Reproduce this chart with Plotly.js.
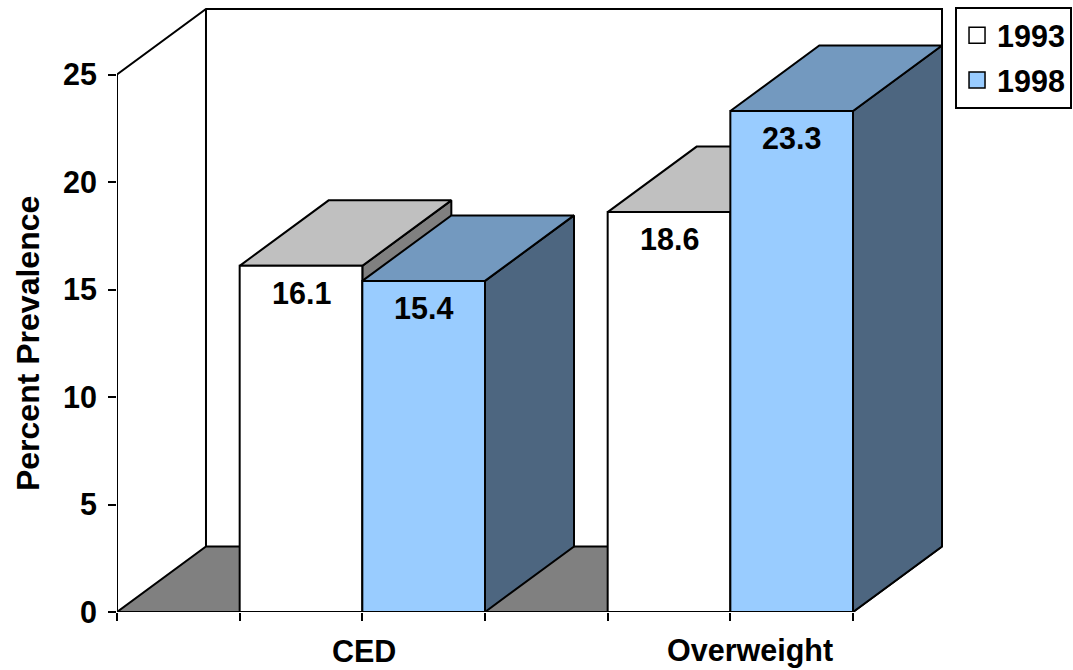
<!DOCTYPE html>
<html>
<head>
<meta charset="utf-8">
<script src="https://cdn.plot.ly/plotly-3.0.1.min.js"></script>
<style>html,body{margin:0;padding:0;background:#fff;}#chart{width:1073px;height:670px;}</style>
</head>
<body>
<div id="chart"></div>
<script>
// ---- data ----
const categories = ['CED', 'Overweight'];
const seriesNames = ['1993', '1998'];
const values1993 = [16.1, 18.6];
const values1998 = [15.4, 23.3];
const yTickVals = [0, 5, 10, 15, 20, 25];
const yTickText = ['0', '5', '10', '15', '20', '25'];
const yTitle = 'Percent Prevalence';

// ---- styles / geometry ----
const series = [values1993, values1998];
const faceColors = [
  {front: '#FFFFFF', top: '#C0C0C0', side: '#808080'},
  {front: '#99CCFF', top: '#7399BF', side: '#4D6680'}
];
const DX = 0.7255, DY = 3.0465;   // 3-D depth offset in axis units
const SLOT = 3;                    // gap + 2 bars per category
const YMAX = yTickVals[yTickVals.length - 1];
const XEND = SLOT * categories.length;
const LW = 2;
const FONT = 'Liberation Sans, Arial, Helvetica, sans-serif';
const FS = 30.5;

function poly(xs, ys, fill) {
  return {type: 'scatter', mode: 'lines', x: xs.concat([xs[0]]), y: ys.concat([ys[0]]),
    fill: 'toself', fillcolor: fill, line: {color: '#000', width: LW},
    hoverinfo: 'skip', showlegend: false};
}

const traces = [];
// floor
traces.push(poly([0, DX, XEND + DX, XEND], [0, DY, DY, 0], '#808080'));
// walls
traces.push({type: 'scatter', mode: 'lines',
  x: [0, 0, DX, XEND + DX, XEND + DX, null, DX, DX],
  y: [0, YMAX, YMAX + DY, YMAX + DY, DY, null, DY, YMAX + DY],
  line: {color: '#000', width: LW}, hoverinfo: 'skip', showlegend: false});

// bars
const annotations = [];
categories.forEach((cat, i) => {
  series.forEach((vals, j) => {
    const x0 = SLOT * i + 1 + j, x1 = x0 + 1, v = vals[i];
    const c = faceColors[j];
    traces.push(poly([x1, x1 + DX, x1 + DX, x1], [0, DY, v + DY, v], c.side));
    traces.push(poly([x0, x0 + DX, x1 + DX, x1], [v, v + DY, v + DY, v], c.top));
    traces.push(poly([x0, x1, x1, x0], [0, 0, v, v], c.front));
    annotations.push({x: (x0 + x1) / 2, y: v, xref: 'x', yref: 'y', text: v.toFixed(1),
      showarrow: false, yshift: -27, font: {family: FONT, size: FS, color: '#000', weight: 'bold'}});
  });
});
// x axis line
traces.push({type: 'scatter', mode: 'lines', x: [0, XEND], y: [0, 0],
  line: {color: '#000', width: LW}, hoverinfo: 'skip', showlegend: false});

// legend entries
seriesNames.forEach((name, j) => {
  traces.push({type: 'scatter', mode: 'markers', x: [-10], y: [-10], name: name,
    legendgroup: 'g' + j,
    marker: {symbol: 'square', size: 16, color: faceColors[j].front, line: {color: '#000', width: 1.5}},
    hoverinfo: 'skip', showlegend: true});
});

// category labels (box bottom kept just inside the figure)
const catLabelX = [2.01, 5.16];
categories.forEach((cat, i) => {
  annotations.push({x: catLabelX[i], y: -(669 - 612) / 612, xref: 'x', yref: 'paper', text: cat,
    showarrow: false, xanchor: 'center', yanchor: 'bottom', borderpad: 0,
    font: {family: FONT, size: FS, color: '#000', weight: 'bold'}});
});
// y title
annotations.push({x: -0.0931, y: 0.4395, xref: 'paper', yref: 'paper', text: yTitle,
  textangle: -90, showarrow: false, xanchor: 'center', yanchor: 'middle',
  font: {family: FONT, size: 32, color: '#000', weight: 'bold'}});

const layout = {
  width: 1073, height: 670,
  margin: {l: 117, r: 0, t: 0, b: 58, autoexpand: false},
  paper_bgcolor: '#fff', plot_bgcolor: '#fff',
  font: {family: FONT, size: FS, color: '#000', weight: 'bold'},
  showlegend: true,
  legend: {x: 0.8766, y: 0.9886, xanchor: 'left', yanchor: 'top', bgcolor: '#fff',
    bordercolor: '#000', borderwidth: 2, tracegroupgap: 2, itemwidth: 30,
    font: {family: FONT, size: FS, color: '#000', weight: 'bold'}},
  xaxis: {range: [0, 956 / 122.667], showgrid: false, zeroline: false, showline: false,
    tickmode: 'array', tickvals: [0, 1, 2, 3, 4, 5, 6], ticks: 'outside', ticklen: 8,
    tickwidth: 2, tickcolor: '#000', showticklabels: false, fixedrange: true},
  yaxis: {range: [0, 612 / 21.5], showgrid: false, zeroline: false, showline: false,
    tickmode: 'array', tickvals: yTickVals, ticktext: yTickText, ticks: 'outside', ticklen: 8,
    tickwidth: 2, tickcolor: '#000', ticklabelstandoff: 5, fixedrange: true,
    tickfont: {family: FONT, size: FS, color: '#000', weight: 'bold'}},
  annotations: annotations
};

Plotly.newPlot('chart', traces, layout, {displayModeBar: false, staticPlot: true});
</script>
</body>
</html>
